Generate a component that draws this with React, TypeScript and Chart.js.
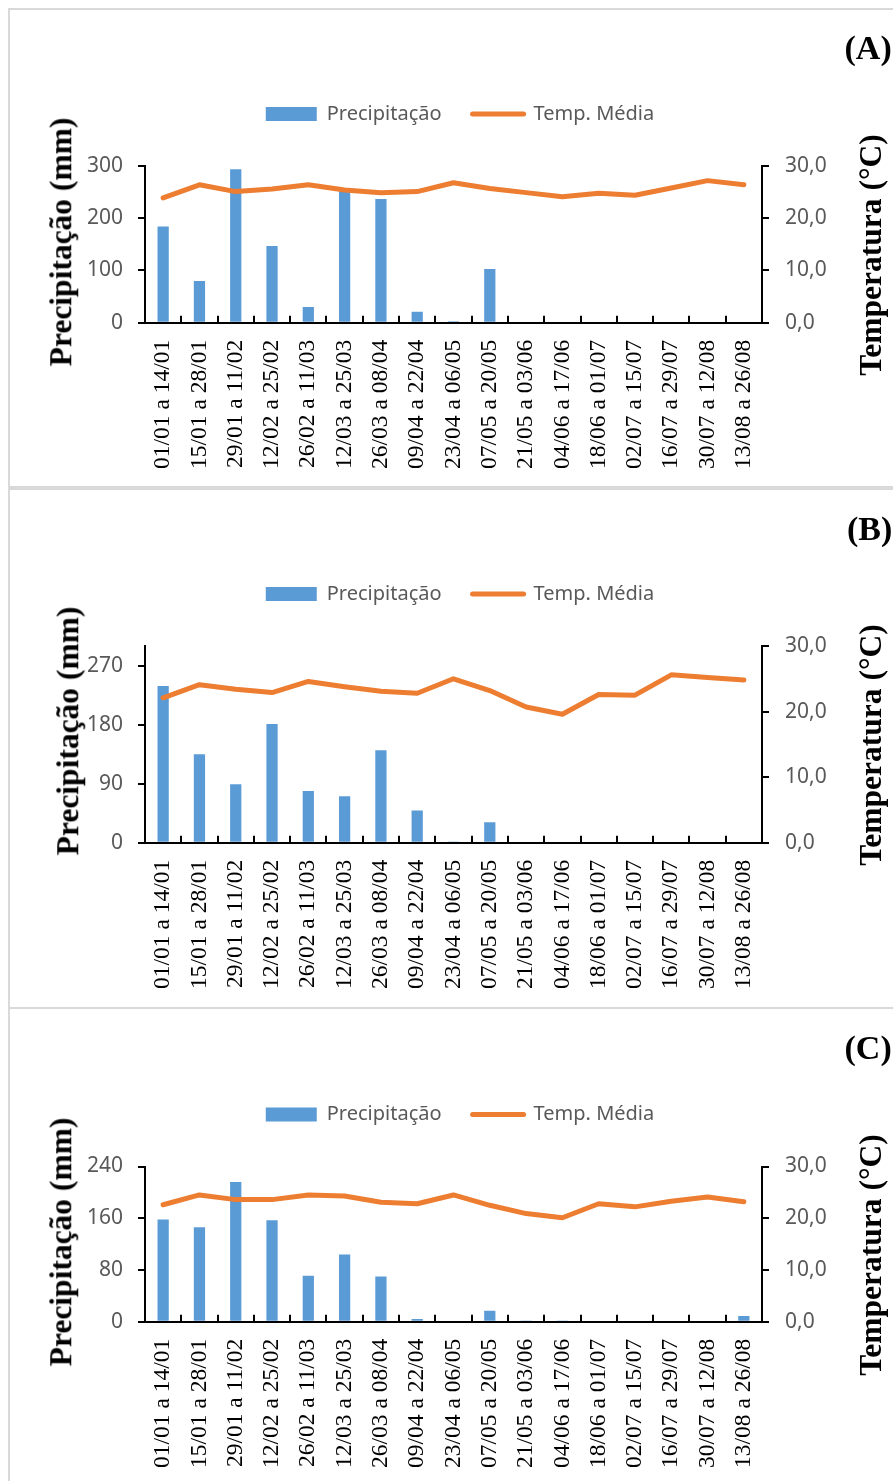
import React, { useEffect, useRef } from 'react';
import { Chart, registerables } from 'chart.js';

Chart.register(...registerables);

// ---------- data ----------
const CATEGORIES = [
  '01/01 a 14/01', '15/01 a 28/01', '29/01 a 11/02', '12/02 a 25/02', '26/02 a 11/03',
  '12/03 a 25/03', '26/03 a 08/04', '09/04 a 22/04', '23/04 a 06/05', '07/05 a 20/05',
  '21/05 a 03/06', '04/06 a 17/06', '18/06 a 01/07', '02/07 a 15/07', '16/07 a 29/07',
  '30/07 a 12/08', '13/08 a 26/08',
];

const SERIES_NAMES = ['Precipitação', 'Temp. Média'];

const A_PRECIP = [184, 80, 294, 147, 30, 256, 237, 21, 3, 103, 0, 0, 0, 0, 0, 0, 0];
const A_TEMP = [23.9, 26.4, 25.1, 25.6, 26.4, 25.4, 24.9, 25.1, 26.8, 25.7, 24.9, 24.1, 24.8, 24.4, 25.8, 27.2, 26.4];

const B_PRECIP = [239, 135, 89, 181, 79, 71, 141, 49, 1, 31, 0, 0, 0, 0, 0, 0, 0];
const B_TEMP = [22.1, 24.1, 23.4, 22.9, 24.6, 23.8, 23.1, 22.8, 25.0, 23.2, 20.7, 19.6, 22.6, 22.5, 25.6, 25.2, 24.8];

const C_PRECIP = [158, 146, 216, 157, 71, 104, 70, 4, 0, 17, 2, 2, 0, 0, 0, 0, 9];
const C_TEMP = [22.6, 24.5, 23.6, 23.6, 24.5, 24.3, 23.1, 22.8, 24.5, 22.5, 20.9, 20.1, 22.8, 22.2, 23.3, 24.1, 23.2];

const A_PRECIP_TICKS = [0, 100, 200, 300];
const B_PRECIP_TICKS = [0, 90, 180, 270];
const C_PRECIP_TICKS = [0, 80, 160, 240];
const TEMP_TICKS = [0, 10, 20, 30];

const PRECIP_TITLE = 'Precipitação (mm)';
const TEMP_TITLE = 'Temperatura (°C)';

// ---------- style ----------
const BLUE = '#5B9BD5';
const ORANGE = '#ED7D31';
const GRAY_TEXT = '#595959';
const SANS = "'Noto Sans', 'Open Sans', sans-serif";
const SERIF = "'Liberation Serif', 'DejaVu Serif', serif";
const CANVAS_W = 883;

type PanelProps = {
  top: number;
  height: number;
  canvasHeight: number;
  precip: number[];
  temp: number[];
  precipMax: number;
  precipTicks: number[];
  letter: string;
  shift: number;
  xHeight: number;
  leftTitle: [number, number];
  rightTitle: [number, number];
  letterPos: [number, number];
};

function ChartPanel(p: PanelProps) {
  const ref = useRef<HTMLCanvasElement | null>(null);

  useEffect(() => {
    if (!ref.current) return;
    const chart = new Chart(ref.current, {
      type: 'bar',
      data: {
        labels: CATEGORIES,
        datasets: [
          {
            type: 'bar',
            label: SERIES_NAMES[0],
            data: p.precip,
            yAxisID: 'y',
            backgroundColor: BLUE,
            borderWidth: 0,
            barPercentage: 0.31,
            categoryPercentage: 1,
            order: 1,
          } as any,
          {
            type: 'line',
            label: SERIES_NAMES[1],
            data: p.temp,
            yAxisID: 'y1',
            borderColor: ORANGE,
            backgroundColor: ORANGE,
            borderWidth: 5,
            pointRadius: 0,
            pointHoverRadius: 0,
            tension: 0,
            borderCapStyle: 'round',
            borderJoinStyle: 'round',
            order: 0,
          } as any,
        ],
      },
      options: {
        responsive: false,
        animation: false,
        devicePixelRatio: 1,
        events: [],
        layout: { padding: { left: 20, right: 3, top: 63 + p.shift, bottom: 0 } },
        plugins: {
          legend: {
            display: true,
            position: 'top',
            labels: {
              usePointStyle: true,
              pointStyleWidth: 51,
              boxHeight: 14,
              padding: 31,
              color: GRAY_TEXT,
              font: { family: SANS, size: 20 },
              generateLabels: () => [
                {
                  text: SERIES_NAMES[0],
                  fillStyle: BLUE,
                  strokeStyle: BLUE,
                  lineWidth: 0,
                  pointStyle: 'rect',
                  hidden: false,
                  datasetIndex: 0,
                  fontColor: GRAY_TEXT,
                },
                {
                  text: SERIES_NAMES[1],
                  fillStyle: ORANGE,
                  strokeStyle: ORANGE,
                  lineWidth: 5,
                  lineCap: 'round',
                  pointStyle: 'line',
                  hidden: false,
                  datasetIndex: 1,
                  fontColor: GRAY_TEXT,
                },
              ],
            },
          } as any,
          title: {
            display: true,
            text: '',
            weight: 100,
            font: { size: 10, lineHeight: 1 },
            padding: { top: 0, bottom: 22 },
          } as any,
          tooltip: { enabled: false },
        },
        scales: {
          x: {
            type: 'category',
            offset: true,
            grid: {
              display: true,
              offset: true,
              drawOnChartArea: false,
              drawTicks: true,
              tickLength: -7,
              color: '#000',
              lineWidth: 2,
            },
            border: { display: true, color: '#000', width: 2 },
            ticks: {
              autoSkip: false,
              minRotation: 90,
              maxRotation: 90,
              padding: 24,
              color: '#000',
              font: { family: SERIF, size: 23.5 },
            },
            afterFit: (s: any) => {
              s.height = p.xHeight;
            },
          },
          y: {
            type: 'linear',
            position: 'left',
            min: 0,
            max: p.precipMax,
            afterBuildTicks: (s: any) => {
              s.ticks = p.precipTicks.map((v) => ({ value: v }));
            },
            grid: {
              drawOnChartArea: false,
              drawTicks: true,
              tickLength: 7,
              color: '#000',
              lineWidth: 2,
            },
            border: { display: true, color: '#000', width: 2 },
            ticks: {
              padding: 15,
              color: GRAY_TEXT,
              font: { family: SANS, size: 21 },
            },
            afterFit: (s: any) => {
              s.width = 115;
            },
          },
          y1: {
            type: 'linear',
            position: 'right',
            min: 0,
            max: 30,
            afterBuildTicks: (s: any) => {
              s.ticks = TEMP_TICKS.map((v) => ({ value: v }));
            },
            grid: {
              drawOnChartArea: false,
              drawTicks: true,
              tickLength: 7,
              color: '#000',
              lineWidth: 2,
            },
            border: { display: true, color: '#000', width: 2 },
            ticks: {
              padding: 16,
              color: GRAY_TEXT,
              font: { family: SANS, size: 21 },
              callback: (v: any) => Number(v).toFixed(1).replace('.', ','),
            },
            afterFit: (s: any) => {
              s.width = 128;
            },
          },
        } as any,
      },
    } as any);
    return () => chart.destroy();
  }, []);

  const titleStyle: React.CSSProperties = {
    position: 'absolute',
    fontFamily: SERIF,
    fontWeight: 'bold',
    fontSize: 31.5,
    lineHeight: 1,
    whiteSpace: 'nowrap',
    color: '#000',
    transform: 'translate(-50%, -50%) rotate(-90deg)',
  };

  return (
    <div
      style={{
        position: 'absolute',
        left: 8,
        top: p.top,
        width: 905,
        height: p.height,
        border: '2px solid #d9d9d9',
        boxSizing: 'border-box',
        background: '#fff',
      }}
    >
      <canvas
        ref={ref}
        width={CANVAS_W}
        height={p.canvasHeight}
        style={{ position: 'absolute', left: 0, top: 0 }}
      />
      <div style={{ ...titleStyle, left: p.leftTitle[0], top: p.leftTitle[1] }}>{PRECIP_TITLE}</div>
      <div style={{ ...titleStyle, left: p.rightTitle[0], top: p.rightTitle[1] }}>{TEMP_TITLE}</div>
      <div
        style={{
          position: 'absolute',
          left: p.letterPos[0],
          top: p.letterPos[1],
          transform: 'translateY(-50%)',
          fontFamily: SERIF,
          fontWeight: 'bold',
          fontSize: 34,
          lineHeight: 1,
          whiteSpace: 'nowrap',
          color: '#000',
        }}
      >
        {p.letter}
      </div>
    </div>
  );
}

export default function App() {
  return (
    <div
      style={{
        position: 'fixed',
        left: 0,
        top: 0,
        width: 893,
        height: 1481,
        overflow: 'hidden',
        background: '#fff',
      }}
    >
      <ChartPanel
        top={8}
        height={480}
        canvasHeight={476}
        precip={A_PRECIP}
        temp={A_TEMP}
        precipMax={300}
        precipTicks={A_PRECIP_TICKS}
        letter="(A)"
        shift={0}
        xHeight={163.3}
        leftTitle={[51, 232]}
        rightTitle={[861, 245]}
        letterPos={[834.5, 38]}
      />
      <ChartPanel
        top={488}
        height={521}
        canvasHeight={517}
        precip={B_PRECIP}
        temp={B_TEMP}
        precipMax={300}
        precipTicks={B_PRECIP_TICKS}
        letter="(B)"
        shift={0}
        xHeight={164.3}
        leftTitle={[57.7, 241]}
        rightTitle={[861, 255]}
        letterPos={[837, 39]}
      />
      <ChartPanel
        top={1007}
        height={500}
        canvasHeight={472}
        precip={C_PRECIP}
        temp={C_TEMP}
        precipMax={240}
        precipTicks={C_PRECIP_TICKS}
        letter="(C)"
        shift={1.5}
        xHeight={159.3}
        leftTitle={[51, 233]}
        rightTitle={[861, 246]}
        letterPos={[834.5, 39]}
      />
    </div>
  );
}
